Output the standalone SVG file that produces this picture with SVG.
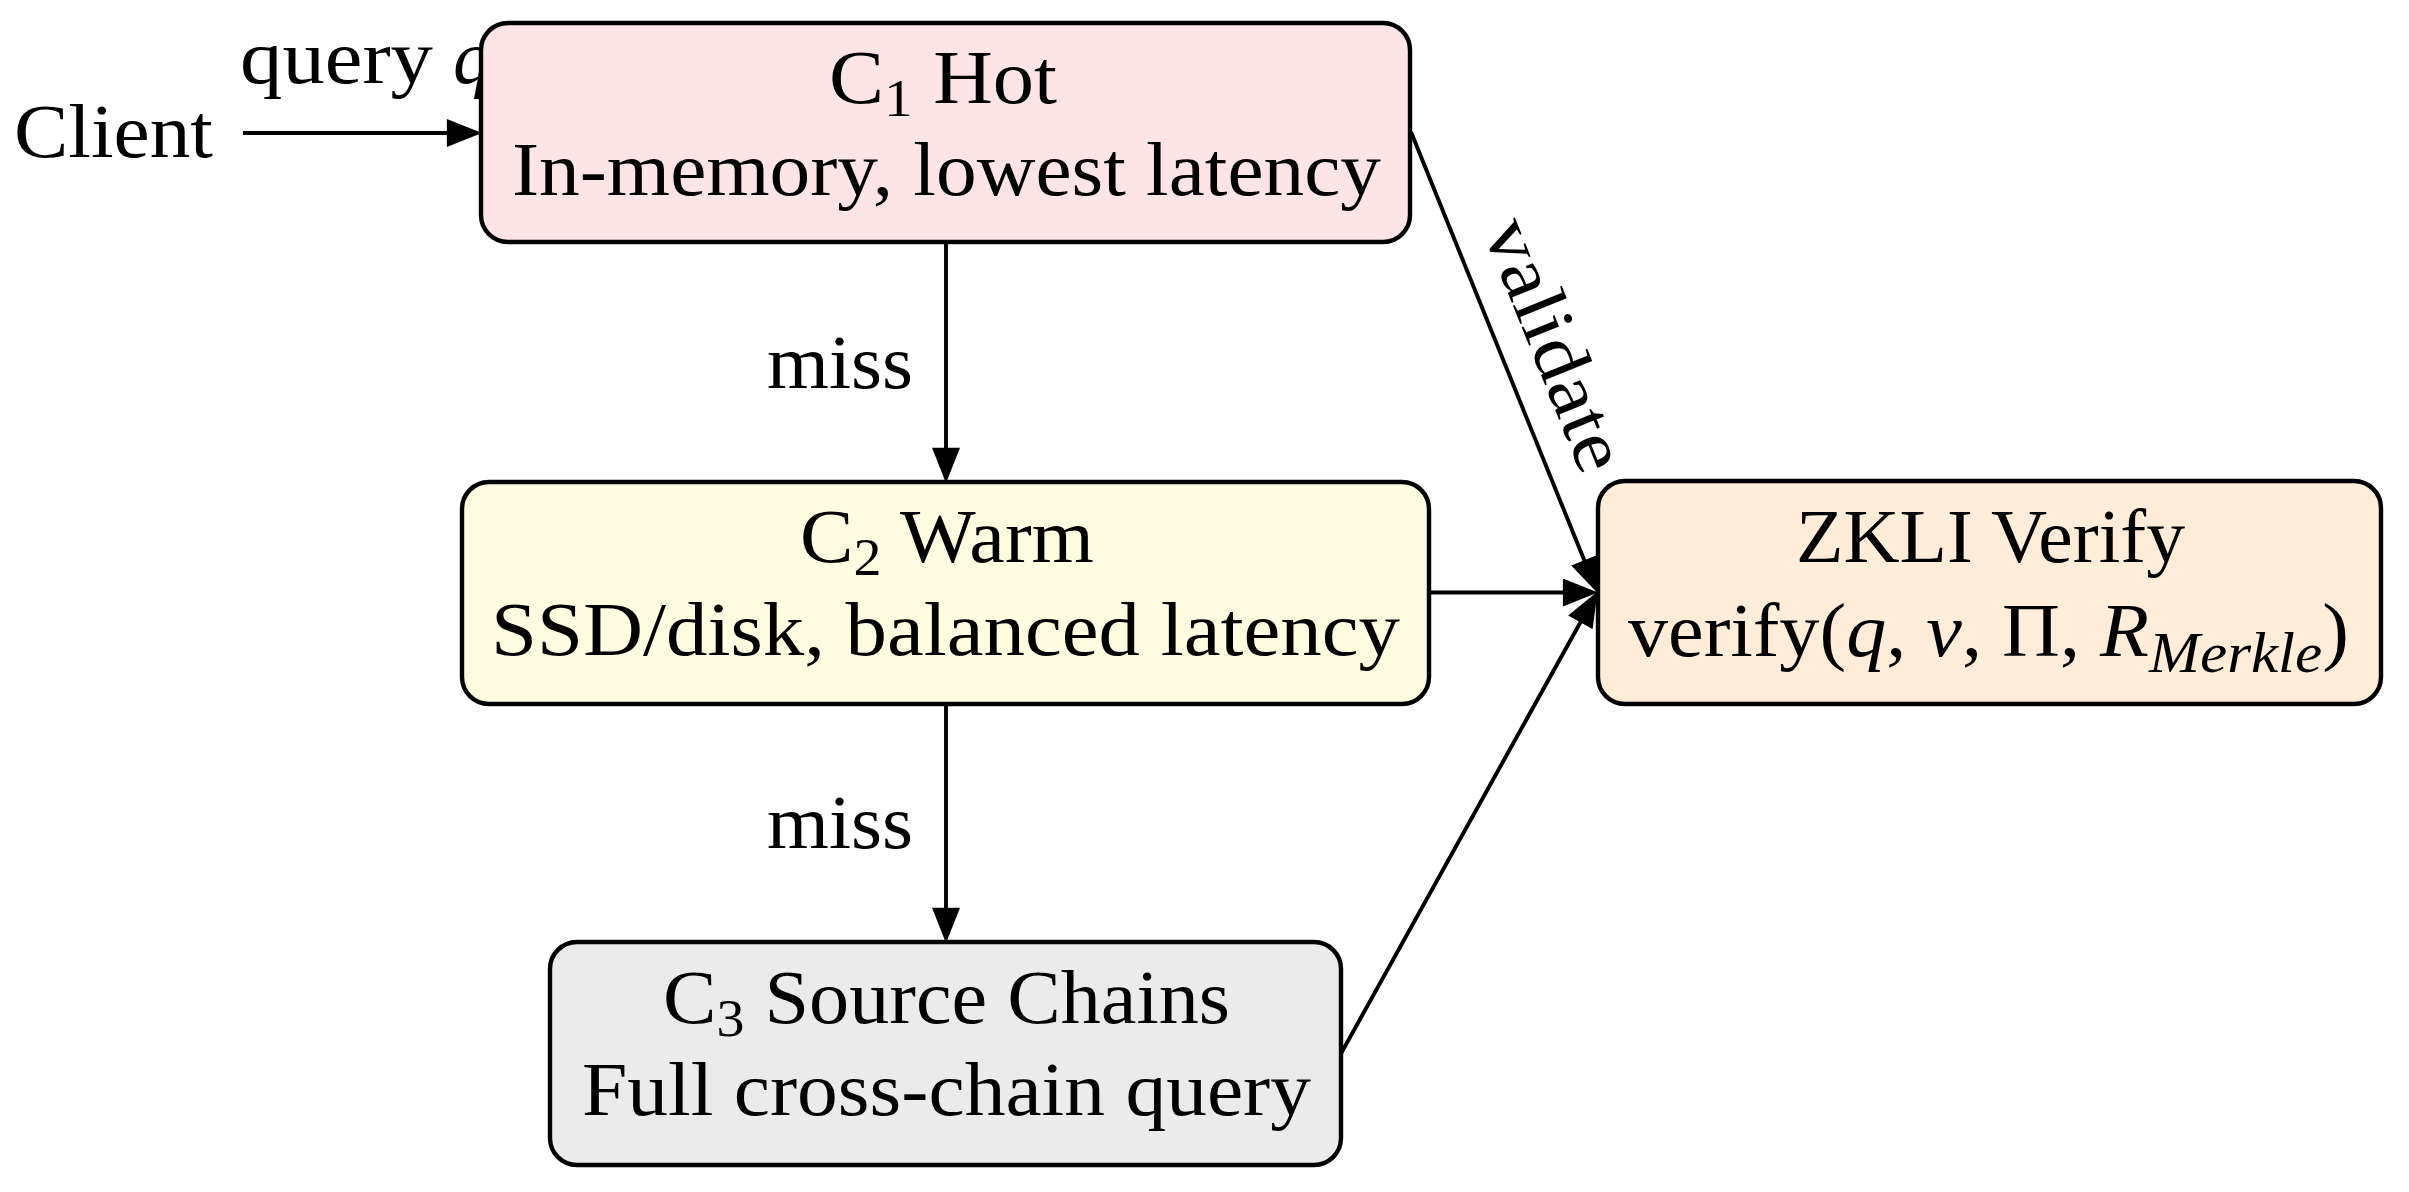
<svg xmlns="http://www.w3.org/2000/svg" width="2409" height="1192" viewBox="0 0 2409 1192">
<style>
text { font-family: "Liberation Serif", "Times New Roman", serif; font-size: 76px; fill: #000; }
.box { stroke: #000; stroke-width: 4.4; }
.edge { fill: none; stroke: #000; stroke-width: 3.9; }
.it { font-style: italic; }
.sub { font-size: 53px; }
.msub { font-size: 58px; }
</style>
<defs>
<marker id="arr" markerUnits="userSpaceOnUse" markerWidth="36" markerHeight="28" refX="4" refY="13.5" orient="auto" viewBox="0 0 34 27">
<path d="M0,0 L34,13.5 L0,27 z" fill="#000"/>
</marker>
</defs>
<rect width="2409" height="1192" fill="#fff"/>
<g id="connectors">
<path class="edge" d="M243,133 L451,133" marker-end="url(#arr)"/>
<text x="240" y="83" textLength="193" lengthAdjust="spacingAndGlyphs">query</text>
<text x="453" y="83" class="it">q</text>
<path class="edge" d="M946,242 L946,452" marker-end="url(#arr)"/>
<text x="767" y="388" textLength="146" lengthAdjust="spacingAndGlyphs">miss</text>
<path class="edge" d="M946,704 L946,912" marker-end="url(#arr)"/>
<text x="767" y="848" textLength="146" lengthAdjust="spacingAndGlyphs">miss</text>
<path class="edge" d="M1411,132 L1585.8,564.1" marker-end="url(#arr)"/>
<text transform="translate(1532.4,353.7) rotate(67.98)" text-anchor="middle" textLength="266" lengthAdjust="spacingAndGlyphs">validate</text>
<path class="edge" d="M1429,592.5 L1567,592.5" marker-end="url(#arr)"/>
<path class="edge" d="M1341,1053.5 L1582.4,618.7" marker-end="url(#arr)"/>
</g>
<g id="client">
<text x="14" y="157" textLength="199" lengthAdjust="spacingAndGlyphs">Client</text>
</g>
<g id="c1">
<rect class="box" x="481" y="23" width="929" height="219" rx="27" fill="#fde4e6"/>
<text x="943" y="103" text-anchor="middle" textLength="228" lengthAdjust="spacingAndGlyphs">C<tspan class="sub" dy="13">1</tspan><tspan dy="-13"> Hot</tspan></text>
<text x="946.5" y="195" text-anchor="middle" textLength="869" lengthAdjust="spacingAndGlyphs">In-memory, lowest latency</text>
</g>
<g id="c2">
<rect class="box" x="462" y="482" width="967" height="222" rx="27" fill="#fefce1"/>
<text x="947" y="562" text-anchor="middle" textLength="294" lengthAdjust="spacingAndGlyphs">C<tspan class="sub" dy="13">2</tspan><tspan dy="-13"> Warm</tspan></text>
<text x="945.5" y="655" text-anchor="middle" textLength="909" lengthAdjust="spacingAndGlyphs">SSD/disk, balanced latency</text>
</g>
<g id="c3">
<rect class="box" x="550" y="942" width="791" height="223" rx="27" fill="#ebebeb"/>
<text x="946.5" y="1023" text-anchor="middle" textLength="567" lengthAdjust="spacingAndGlyphs">C<tspan class="sub" dy="13">3</tspan><tspan dy="-13"> Source Chains</tspan></text>
<text x="946.5" y="1115" text-anchor="middle" textLength="729" lengthAdjust="spacingAndGlyphs">Full cross-chain query</text>
</g>
<g id="zkli">
<rect class="box" x="1598" y="481" width="783" height="223" rx="27" fill="#ffecd9"/>
<text x="1990.5" y="562" text-anchor="middle" textLength="389" lengthAdjust="spacingAndGlyphs">ZKLI Verify</text>
<text x="1988.5" y="656" text-anchor="middle" textLength="721" lengthAdjust="spacingAndGlyphs">verify(<tspan class="it">q</tspan>, <tspan class="it">v</tspan>, Π, <tspan class="it">R</tspan><tspan class="it msub" dy="16">Merkle</tspan><tspan dy="-16">)</tspan></text>
</g>
</svg>
